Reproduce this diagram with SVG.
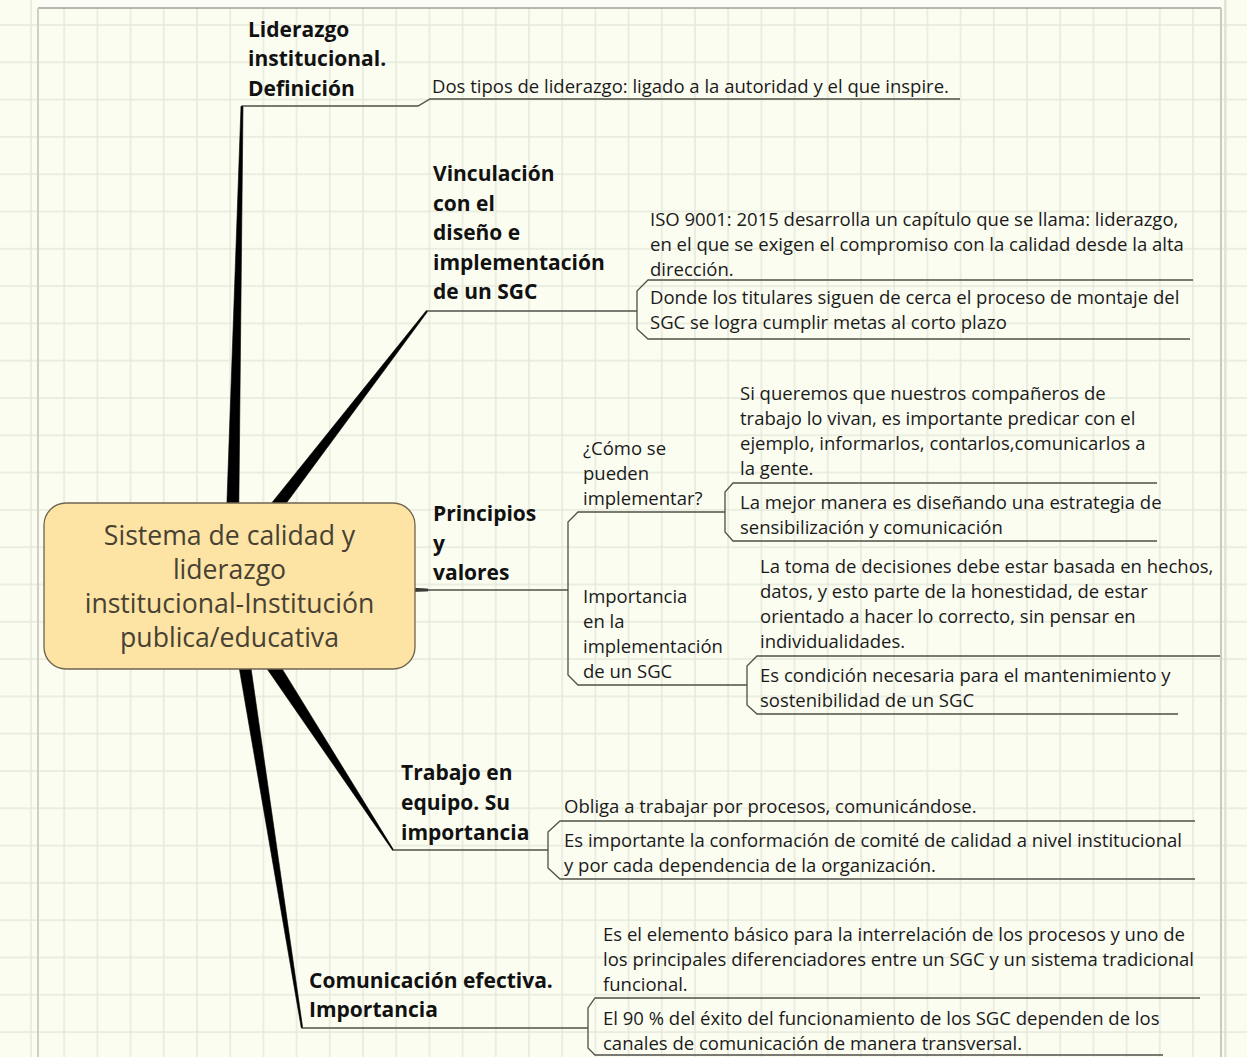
<svg xmlns="http://www.w3.org/2000/svg" width="1247" height="1057" viewBox="0 0 1247 1057">
<defs>
<style>
.t{font-family:"Open Sans","Liberation Sans",sans-serif;font-size:18.5px;fill:#1a1a1a}
.b{font-family:"Open Sans","Liberation Sans",sans-serif;font-size:21px;font-weight:bold;fill:#111}
.c{font-family:"Open Sans","Liberation Sans",sans-serif;font-size:26.6px;font-weight:500;fill:#474133;text-anchor:middle}
.ln{fill:none;stroke:#4f4f48;stroke-width:1.3}
.br{fill:#000;stroke:#000;stroke-width:0.6;stroke-linejoin:round}
</style>
<pattern id="grid" patternUnits="userSpaceOnUse" x="30" y="24" width="33.2" height="37.3">
<path d="M1,0 V37.3 M0,1 H33.2" stroke="#e5e9da" stroke-width="1.5" fill="none"/>
</pattern>
</defs>
<rect width="1247" height="1057" fill="#fcfdf1"/>
<rect width="1247" height="1057" fill="url(#grid)"/>
<rect x="38" width="1183" height="8" fill="#fdfdf8"/>
<g id="frame" fill="none">
<path d="M38,8 H1221" stroke="#9fa093" stroke-width="1.5"/>
<path d="M38,8 V1057" stroke="#cfd0c3" stroke-width="2"/>
<path d="M1221,8 V1057" stroke="#c9cabd" stroke-width="2"/>
<path d="M1225,0 V1057" stroke="#dcddd0" stroke-width="1.5"/>
</g>
<g id="connectors">
<polygon class="br" points="224,585 238,585 243,106 241,106"/>
<polygon class="br" points="209.7,580.1 222.3,589.9 427.6,311.5 426.4,310.5"/>
<polygon class="br" points="232,580 232,596 428,591 428,589"/>
<polygon class="br" points="212.5,589.9 392.6,850.4 393.4,849.6 227.5,580.1"/>
<polygon class="br" points="225.1,586.1 301.3,1028.1 302.7,1027.9 238.9,583.9"/>
<path class="ln" d="M242,106 H418 L430,99 H960"/>
<path class="ln" d="M427,311 H637"/>
<path class="ln" d="M1193,280 H648 L637,291 V329 L648,339 H1190"/>
<path class="ln" d="M415,590 H568"/>
<path class="ln" d="M725,512 H578 L568,522 V675 L578,685 H747"/>
<path class="ln" d="M1157,483 H733 L725,492 V532 L733,541 H1157"/>
<path class="ln" d="M1220,656 H757 L747,666 V705 L757,714 H1178"/>
<path class="ln" d="M393,850 H548"/>
<path class="ln" d="M1195,821 H560 L548,832 V868 L560,879 H1195"/>
<path class="ln" d="M302,1028 H588"/>
<path class="ln" d="M1200,998 H595 L588,1008 V1048 L595,1055 H1163"/>
</g>
<g id="central">
<rect x="44" y="503" width="371" height="166" rx="22" ry="22" fill="#fde3a4" stroke="#6e6450" stroke-width="1.3"/>
<text class="c"><tspan x="229.5" y="545">Sistema de calidad y</tspan><tspan x="229.5" y="579">liderazgo</tspan><tspan x="229.5" y="613">institucional-Institución</tspan><tspan x="229.5" y="647">publica/educativa</tspan></text>
</g>
<g id="liderazgo">
<text class="b"><tspan x="248" y="37">Liderazgo</tspan><tspan x="248" y="66">institucional.</tspan><tspan x="248" y="96">Definición</tspan></text>
</g>
<g id="dos-tipos">
<text class="t" x="432" y="93">Dos tipos de liderazgo: ligado a la autoridad y el que inspire.</text>
</g>
<g id="vinculacion">
<text class="b"><tspan x="433" y="181">Vinculación</tspan><tspan x="433" y="211">con el</tspan><tspan x="433" y="240">diseño e</tspan><tspan x="433" y="270">implementación</tspan><tspan x="433" y="299">de un SGC</tspan></text>
</g>
<g id="iso">
<text class="t"><tspan x="650" y="226">ISO 9001: 2015 desarrolla un capítulo que se llama: liderazgo,</tspan><tspan x="650" y="251">en el que se exigen el compromiso con la calidad desde la alta</tspan><tspan x="650" y="276">dirección.</tspan></text>
</g>
<g id="donde">
<text class="t"><tspan x="650" y="304">Donde los titulares siguen de cerca el proceso de montaje del</tspan><tspan x="650" y="329">SGC se logra cumplir metas al corto plazo</tspan></text>
</g>
<g id="principios">
<text class="b"><tspan x="433" y="521">Principios</tspan><tspan x="433" y="551">y</tspan><tspan x="433" y="580">valores</tspan></text>
</g>
<g id="como">
<text class="t"><tspan x="583" y="455">¿Cómo se</tspan><tspan x="583" y="480">pueden</tspan><tspan x="583" y="505">implementar?</tspan></text>
</g>
<g id="si-queremos">
<text class="t"><tspan x="740" y="400">Si queremos que nuestros compañeros de</tspan><tspan x="740" y="425">trabajo lo vivan, es importante predicar con el</tspan><tspan x="740" y="450">ejemplo, informarlos, contarlos,comunicarlos a</tspan><tspan x="740" y="475">la gente.</tspan></text>
</g>
<g id="la-mejor">
<text class="t"><tspan x="740" y="509">La mejor manera es diseñando una estrategia de</tspan><tspan x="740" y="534">sensibilización y comunicación</tspan></text>
</g>
<g id="importancia-impl">
<text class="t"><tspan x="583" y="603">Importancia</tspan><tspan x="583" y="628">en la</tspan><tspan x="583" y="653">implementación</tspan><tspan x="583" y="678">de un SGC</tspan></text>
</g>
<g id="la-toma">
<text class="t"><tspan x="760" y="573">La toma de decisiones debe estar basada en hechos,</tspan><tspan x="760" y="598">datos, y esto parte de la honestidad, de estar</tspan><tspan x="760" y="623">orientado a hacer lo correcto, sin pensar en</tspan><tspan x="760" y="648">individualidades.</tspan></text>
</g>
<g id="es-condicion">
<text class="t"><tspan x="760" y="682">Es condición necesaria para el mantenimiento y</tspan><tspan x="760" y="707">sostenibilidad de un SGC</tspan></text>
</g>
<g id="trabajo">
<text class="b"><tspan x="401" y="780">Trabajo en</tspan><tspan x="401" y="810">equipo. Su</tspan><tspan x="401" y="840">importancia</tspan></text>
</g>
<g id="obliga">
<text class="t" x="564" y="813">Obliga a trabajar por procesos, comunicándose.</text>
</g>
<g id="es-importante">
<text class="t"><tspan x="564" y="847">Es importante la conformación de comité de calidad a nivel institucional</tspan><tspan x="564" y="872">y por cada dependencia de la organización.</tspan></text>
</g>
<g id="comunicacion">
<text class="b"><tspan x="309" y="988">Comunicación efectiva.</tspan><tspan x="309" y="1017">Importancia</tspan></text>
</g>
<g id="elemento">
<text class="t"><tspan x="603" y="941">Es el elemento básico para la interrelación de los procesos y uno de</tspan><tspan x="603" y="966">los principales diferenciadores entre un SGC y un sistema tradicional</tspan><tspan x="603" y="991">funcional.</tspan></text>
</g>
<g id="noventa">
<text class="t"><tspan x="603" y="1025">El 90 % del éxito del funcionamiento de los SGC dependen de los</tspan><tspan x="603" y="1050">canales de comunicación de manera transversal.</tspan></text>
</g>
</svg>
